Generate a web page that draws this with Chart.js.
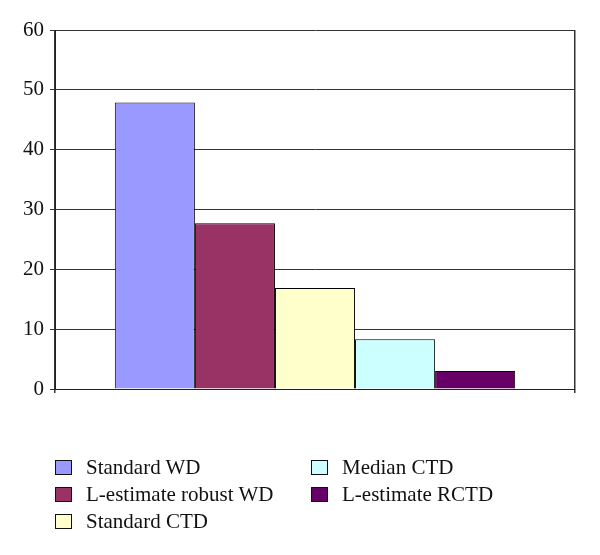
<!DOCTYPE html>
<html>
<head>
<meta charset="utf-8">
<script src="https://cdn.jsdelivr.net/npm/chart.js@4"></script>
<style>
  body { margin: 0; background: #fff; }
  #wrap { position: relative; width: 600px; height: 555px; }
  #legend { position: absolute; left: 0; top: 0; width: 600px; height: 555px; pointer-events: none;
            font-family: "Liberation Serif", "DejaVu Serif", serif; font-size: 21px; color: #111; }
  .item { position: absolute; display: flex; align-items: center; height: 22px; }
  .box { width: 15px; height: 13px; border: 1px solid #111; margin-right: 14px; }
</style>
</head>
<body>
<div id="wrap">
  <canvas id="chart" width="600" height="555"></canvas>
  <div id="legend"></div>
</div>
<script>
// series shown as separate bars
const seriesNames = ["Standard WD", "L-estimate robust WD", "Standard CTD", "Median CTD", "L-estimate RCTD"];
const seriesValues = [47.9, 27.7, 16.9, 8.3, 3.0];
const seriesColors = ["#9999ff", "#993366", "#ffffcc", "#ccffff", "#660066"];
const yTicks = [0, 10, 20, 30, 40, 50, 60];

const datasets = seriesNames.map((name, i) => ({
    label: name,
    data: [seriesValues[i]],
    backgroundColor: seriesColors[i],
    borderColor: "#000",
    borderWidth: 1,
    barPercentage: 1.0,
    categoryPercentage: 0.77
}));

new Chart(document.getElementById("chart"), {
    type: "bar",
    data: { labels: [""], datasets: datasets },
    options: {
        responsive: false,
        animation: false,
        layout: { padding: { top: 30, right: 25, bottom: 160, left: 0 } },
        plugins: { legend: { display: false }, tooltip: { enabled: false } },
        scales: {
            x: {
                grid: { display: true, offset: true, color: "#333", tickLength: 4, lineWidth: 1.5 },
                border: { display: true, color: "#222" },
                ticks: { display: false },
                afterFit: s => { s.height = 6; }
            },
            y: {
                min: 0,
                max: 60,
                afterBuildTicks: s => { s.ticks = yTicks.map(v => ({ value: v })); },
                grid: { color: "#333", tickLength: 5, lineWidth: 1 },
                border: { display: true, color: "#222" },
                ticks: {
                    color: "#111",
                    padding: 6,
                    font: { family: "'Liberation Serif', 'DejaVu Serif', serif", size: 21 }
                },
                afterFit: s => { s.width = 55; }
            }
        }
    }
});

// two-column legend, filled column by column
const legend = document.getElementById("legend");
const perCol = 3;
seriesNames.forEach((name, i) => {
    const col = Math.floor(i / perCol);
    const row = i % perCol;
    const div = document.createElement("div");
    div.className = "item";
    div.style.left = (col === 0 ? 55 : 311) + "px";
    div.style.top = (456 + row * 27) + "px";
    div.innerHTML = `<span class="box" style="background:${seriesColors[i]}"></span><span>${name}</span>`;
    legend.appendChild(div);
});
</script>
</body>
</html>
